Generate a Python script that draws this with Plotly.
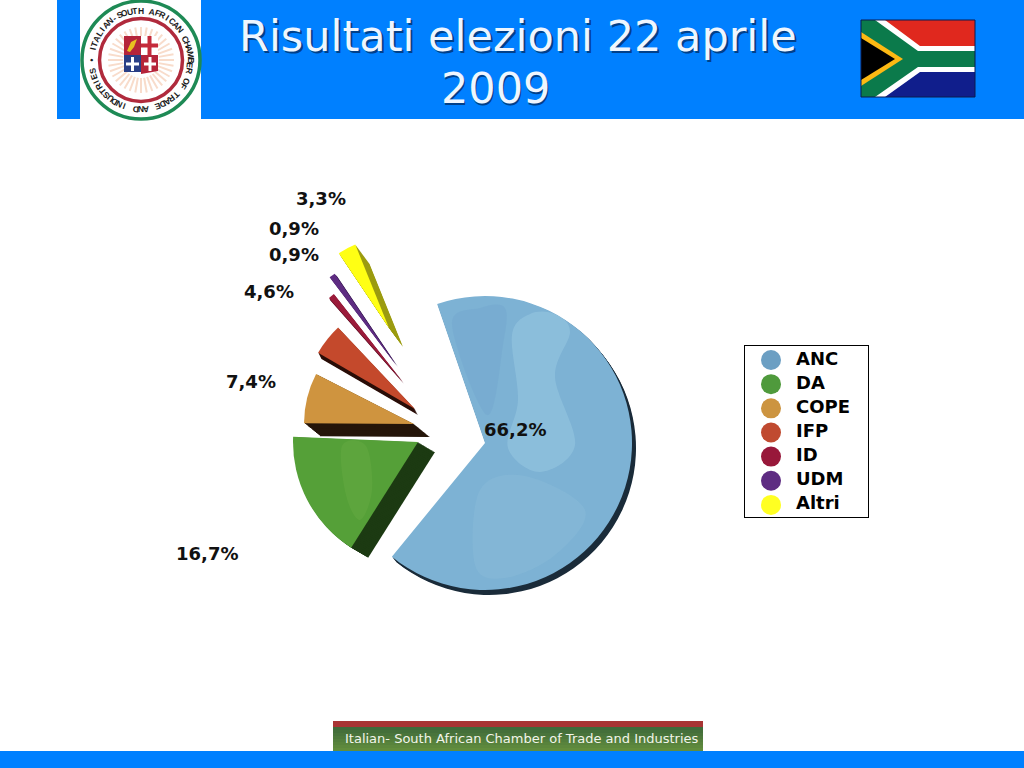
import math
import plotly.graph_objects as go

W, H = 1024, 768
parties = ["ANC", "DA", "COPE", "IFP", "ID", "UDM", "Altri"]
shares = [66.2, 16.7, 7.4, 4.6, 0.9, 0.9, 3.3]
title_lines = ["Risultati elezioni 22 aprile", "2009"]
footer = "Italian- South African Chamber of Trade and Industries"
seal_text = "ITALIAN-SOUTH AFRICAN CHAMBER OF TRADE AND INDUSTRIES"

top_colors = ["#7DB2D4", "#55A038", "#CF943F", "#C4492C", "#9B1B3A", "#5E2C82", "#FFFF14"]
side_colors = ["#1B2C3A", "#1C3A12", "#26160A", "#2A0E08", "#5E0E22", "#34164E", "#9C9C10"]
legend_colors = ["#6C9FC3", "#4F9A3C", "#CC9440", "#C04A30", "#98183A", "#5E2C82", "#FFFF22"]

# slice placement in page pixels: centre x, centre y, radius, rotation, depth dx, depth dy
slice_x = [485, 418, 414, 415, 403, 396, 389]
slice_y = [443, 442, 424, 409, 382, 365, 328]
slice_r = [147, 125, 110, 112, 112, 110, 90]
slice_rot = [-19, -26, -28, -25, -23, -22, -22]
slice_dx = [4, 17, 16, 3, 1, 2, 14]
slice_dy = [5, 10, 13, 6, 2, 2, 19]

label_x = [515, 207, 251, 269, 294, 294, 321]
label_y = [429, 553, 381, 292, 254, 228, 199]


def fx(x):
    return x / W


def fy(y):
    return 1 - y / H


def rect(x0, y0, x1, y1, color):
    return dict(type="rect", xref="paper", yref="paper", x0=fx(x0), x1=fx(x1), y0=fy(y0), y1=fy(y1),
                fillcolor=color, line=dict(width=0), layer="below")


def circle(cx, cy, r, color, line=None, lw=0):
    return dict(type="circle", xref="paper", yref="paper", x0=fx(cx - r), x1=fx(cx + r), y0=fy(cy - r), y1=fy(cy + r),
                fillcolor=color, line=dict(width=lw, color=line or color), layer="below")


def poly(points, color, layer="below"):
    path = "M " + " L ".join(f"{fx(x):.5f},{fy(y):.5f}" for x, y in points) + " Z"
    return dict(type="path", xref="paper", yref="paper", path=path, fillcolor=color, line=dict(width=0), layer=layer)


def blob(points, color):
    n = len(points)
    path = f"M {fx(points[0][0]):.5f},{fy(points[0][1]):.5f}"
    for i in range(n):
        p0, p1, p2, p3 = points[i - 1], points[i], points[(i + 1) % n], points[(i + 2) % n]
        c1 = (p1[0] + (p2[0] - p0[0]) / 6, p1[1] + (p2[1] - p0[1]) / 6)
        c2 = (p2[0] - (p3[0] - p1[0]) / 6, p2[1] - (p3[1] - p1[1]) / 6)
        path += (f" C {fx(c1[0]):.5f},{fy(c1[1]):.5f} {fx(c2[0]):.5f},{fy(c2[1]):.5f}"
                 f" {fx(p2[0]):.5f},{fy(p2[1]):.5f}")
    return dict(type="path", xref="paper", yref="paper", path=path + " Z", fillcolor=color, line=dict(width=0),
                layer="above")


def seg(x0, y0, x1, y1, color, w):
    return dict(type="line", xref="paper", yref="paper", x0=fx(x0), x1=fx(x1), y0=fy(y0), y1=fy(y1),
                line=dict(color=color, width=w), layer="below")


def text(x, y, s, size, color, family="DejaVu Sans", bold=False, angle=0):
    return dict(xref="paper", yref="paper", x=fx(x), y=fy(y), text=f"<b>{s}</b>" if bold else s, showarrow=False,
                xanchor="center", yanchor="middle", textangle=angle,
                font=dict(size=size, color=color, family=family))


BLUE = "#0080FF"
shapes = [
    rect(57, 0, W, 119, BLUE),
    rect(80, 0, 201, 119, "#FFFFFF"),
    rect(0, 751, W, H, BLUE),
]

# footer strip
shapes.append(rect(333, 721, 703, 727, "#A83434"))
strip = ["#3F6B3A", "#446F3A", "#49743B", "#4E793B", "#537E3C", "#58833C", "#5D883D", "#628D3D"]
for i, c in enumerate(strip):
    shapes.append(rect(333, 727 + i * 3, 703, 727 + (i + 1) * 3, c))

# seal
cx, cy = 141, 60
shapes += [
    circle(cx, cy, 59, "#FFFFFF", "#1E8A55", 3.5),
    circle(cx, cy, 41.5, "#FFFFFF", "#B02A3C", 3.5),
]
for k in range(36):
    a = math.radians(k * 10)
    shapes.append(seg(cx + 18 * math.cos(a), cy + 18 * math.sin(a), cx + 33 * math.cos(a), cy + 33 * math.sin(a),
                      "#F8DCCB", 2))
shapes += [
    rect(124, 36, 141, 55, "#B5243A"),
    rect(141, 36, 158, 55, "#FFFFFF"),
    rect(124, 55, 141, 72, "#2A3F86"),
    poly([(141, 55), (158, 55), (158, 71), (141, 74)], "#B5243A"),
    rect(147.5, 36, 151.5, 55, "#C52A3A"),
    rect(141, 43.5, 158, 47.5, "#C52A3A"),
    rect(131, 57, 134, 71, "#FFFFFF"),
    rect(126, 62.5, 139, 65.5, "#FFFFFF"),
    rect(148.5, 57, 151.5, 71, "#FFFFFF"),
    rect(144, 62.5, 156, 65.5, "#FFFFFF"),
    poly([(127, 51), (131, 42), (137, 39), (134, 47), (130, 52)], "#E8C020"),
]

# flag
shapes += [
    rect(861, 20, 975, 58, "#E0281E"),
    rect(861, 58, 975, 97, "#101E8C"),
    poly([(861, 20), (885, 20), (920, 46), (975, 46), (975, 72), (920, 72), (885, 97), (861, 97)], "#FFFFFF"),
    poly([(861, 20), (875, 20), (918, 51), (975, 51), (975, 67), (918, 67), (875, 97), (861, 97)], "#0B7A4B"),
    poly([(861, 32), (903, 59), (861, 86)], "#FDB913"),
    poly([(861, 38), (895, 59), (861, 80)], "#000000"),
    dict(type="rect", xref="paper", yref="paper", x0=fx(861), x1=fx(975), y0=fy(20), y1=fy(97),
         line=dict(color="#0A1A50", width=1), layer="below"),
]

# soft brushed tones on the two largest slices
shapes += [
    blob([(452, 325), (480, 308), (505, 308), (503, 345), (487, 415)], "rgba(80,130,190,0.10)"),
    blob([(512, 335), (530, 314), (555, 314), (570, 332), (555, 377), (575, 445), (540, 472), (508, 448), (518, 400)],
         "rgba(190,230,245,0.22)"),
    blob([(480, 490), (525, 476), (585, 510), (555, 555), (505, 578), (475, 565)], "rgba(190,225,240,0.10)"),
    blob([(342, 446), (366, 446), (372, 490), (360, 520), (346, 495)], "rgba(135,195,85,0.16)"),
]

annotations = []
# title with its soft shadow
for s, x, y in zip(title_lines, [518, 495], [36, 88]):
    annotations.append(text(x + 1.5, y + 1.5, s, 43, "#00408A"))
    annotations.append(text(x, y, s, 43, "#EEF6FF"))

annotations.append(text(522, 738, footer, 13, "#F2F5EA"))

# seal lettering
ring = "\u2022 " + seal_text + " "
step = 360 / len(ring)
for i, ch in enumerate(ring):
    if ch == " ":
        continue
    deg = 180 + i * step
    a = math.radians(deg)
    annotations.append(text(cx + 49.5 * math.cos(a), cy + 49.5 * math.sin(a), ch, 8.5, "#1A1A1A",
                            family="Liberation Sans", bold=True, angle=(deg + 90) % 360))

for v, x, y in zip(shares, label_x, label_y):
    annotations.append(text(x, y, f"{v:.1f}%".replace(".", ","), 18, "#111111", bold=True))

fig = go.Figure()


def add_slice(index, x, y, r, rot, color):
    colors = ["rgba(0,0,0,0)"] * len(shares)
    colors[index] = color
    fig.add_trace(go.Pie(values=shares, labels=parties, sort=False, direction="clockwise", rotation=rot,
                         marker=dict(colors=colors, line=dict(width=0)), textinfo="none", hoverinfo="skip",
                         showlegend=False,
                         domain=dict(x=[fx(x - r), fx(x + r)], y=[fy(y + r), fy(y - r)])))


for i in range(len(shares)):
    n = max(abs(slice_dx[i]), abs(slice_dy[i]))
    for k in range(n, 0, -1):
        add_slice(i, slice_x[i] + slice_dx[i] * k / n, slice_y[i] + slice_dy[i] * k / n, slice_r[i], slice_rot[i],
                  side_colors[i])
    add_slice(i, slice_x[i], slice_y[i], slice_r[i], slice_rot[i], top_colors[i])

# legend panel
fig.add_trace(go.Scatter(x=[0] * len(parties), y=parties, mode="markers",
                         marker=dict(size=20, color=legend_colors, line=dict(width=0)),
                         hoverinfo="skip", showlegend=False))
fig.add_trace(go.Scatter(x=[25] * len(parties), y=parties, mode="text", text=parties, textposition="middle right",
                         textfont=dict(family="DejaVu Sans", size=18, color="#000000", weight="bold"),
                         hoverinfo="skip", showlegend=False))

fig.update_layout(
    width=W, height=H, margin=dict(l=0, r=0, t=0, b=0), paper_bgcolor="#FFFFFF", plot_bgcolor="rgba(0,0,0,0)",
    shapes=shapes, annotations=annotations, showlegend=False,
    xaxis=dict(domain=[fx(745), fx(868)], range=[-26, 97], showgrid=False, zeroline=False, showticklabels=False,
               ticks="", showline=True, mirror=True, linecolor="#000000", linewidth=1, fixedrange=True),
    yaxis=dict(domain=[fy(517), fy(346)], type="category", categoryorder="array", categoryarray=parties,
               autorange=False, range=[6.5, -0.58], showgrid=False, zeroline=False, showticklabels=False, ticks="",
               showline=True, mirror=True, linecolor="#000000", linewidth=1, fixedrange=True),
)

fig.write_html("out.html", config=dict(displayModeBar=False),
               post_script="document.body.style.margin='0';document.body.style.overflow='hidden';")
